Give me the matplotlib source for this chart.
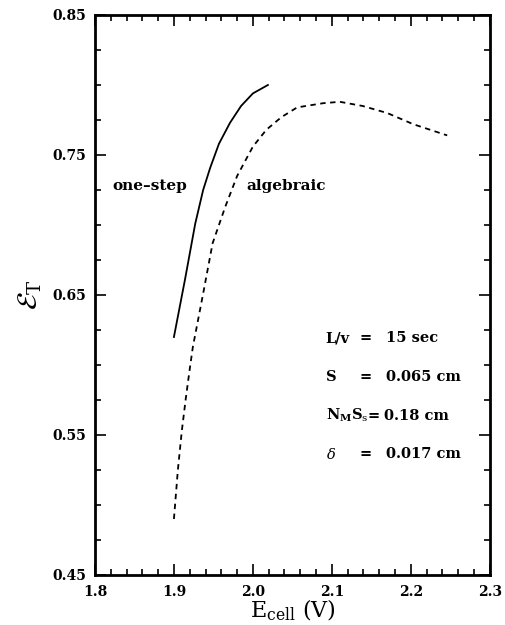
import matplotlib
matplotlib.use('Agg')
import matplotlib.pyplot as plt
from matplotlib.ticker import MultipleLocator

# one-step curve
e_onestep = [1.900, 1.914, 1.927, 1.937, 1.946, 1.957, 1.971, 1.985, 2.000, 2.019]
eff_onestep = [0.620, 0.661, 0.701, 0.725, 0.741, 0.758, 0.773, 0.785, 0.794, 0.800]

# algebraic curve
e_alg = [1.900, 1.905, 1.910, 1.915, 1.920, 1.924, 1.937, 1.949, 1.965, 1.980,
         2.000, 2.017, 2.036, 2.056, 2.089, 2.110, 2.139, 2.170, 2.203, 2.246]
eff_alg = [0.490, 0.525, 0.553, 0.576, 0.597, 0.613, 0.651, 0.687, 0.713, 0.735,
           0.756, 0.768, 0.777, 0.784, 0.787, 0.788, 0.785, 0.780, 0.772, 0.764]

xticks = [1.8, 1.9, 2.0, 2.1, 2.2, 2.3]
yticks = [0.45, 0.55, 0.65, 0.75, 0.85]

params = [(r'L/v', '15 sec'),
          (r'S', '0.065 cm'),
          (r'N$_{\mathbf{M}}$S$_{\mathrm{s}}$', '0.18 cm'),
          (r'$\delta$', '0.017 cm')]

plt.rcParams['font.family'] = 'DejaVu Serif'
plt.rcParams['mathtext.fontset'] = 'dejavuserif'

fig = plt.figure(figsize=(5.05, 6.25), dpi=100)
ax = fig.add_axes([0.188, 0.08, 0.782, 0.896])

ax.plot(e_onestep, eff_onestep, color='black', lw=1.3)
ax.plot(e_alg, eff_alg, color='black', lw=1.3, linestyle=(0, (3, 2.5)))

ax.set_xlim(1.8, 2.3)
ax.set_ylim(0.45, 0.85)
ax.set_xticks(xticks)
ax.set_yticks(yticks)
ax.set_xticklabels(['%.1f' % v for v in xticks], fontweight='bold', fontsize=10)
ax.set_yticklabels(['%.2f' % v for v in yticks], fontweight='bold', fontsize=10)
ax.xaxis.set_minor_locator(MultipleLocator(0.02))
ax.yaxis.set_minor_locator(MultipleLocator(0.025))
ax.tick_params(which='both', direction='in', top=True, right=True, width=1.2)
ax.tick_params(which='major', length=8)
ax.tick_params(axis='x', which='major', pad=7)
ax.tick_params(axis='y', which='major', pad=6)
ax.tick_params(which='minor', length=4)
for s in ax.spines.values():
    s.set_linewidth(2)

ax.text(1.822, 0.728, 'one\u2013step', fontsize=11, fontweight='bold', va='center')
ax.text(1.992, 0.728, 'algebraic', fontsize=11, fontweight='bold', va='center')

for i, (name, val) in enumerate(params):
    y = 0.619 - i * 0.0276
    if i == 2:
        eq_x, val_x = 2.145, 2.166
    else:
        eq_x, val_x = 2.135, 2.168
    ax.text(2.092, y, name, fontsize=10.5, fontweight='bold', va='center')
    ax.text(eq_x, y, '=', fontsize=10.5, fontweight='bold', va='center')
    ax.text(val_x, y, val, fontsize=10.5, fontweight='bold', va='center')

ax.set_xlabel(r'E$_{\mathrm{cell}}$ (V)', fontsize=16, labelpad=-1)
ax.set_ylabel(r'$\mathcal{E}_{\mathrm{T}}$', fontsize=20, labelpad=6)

fig.savefig('out.png', dpi=100)
